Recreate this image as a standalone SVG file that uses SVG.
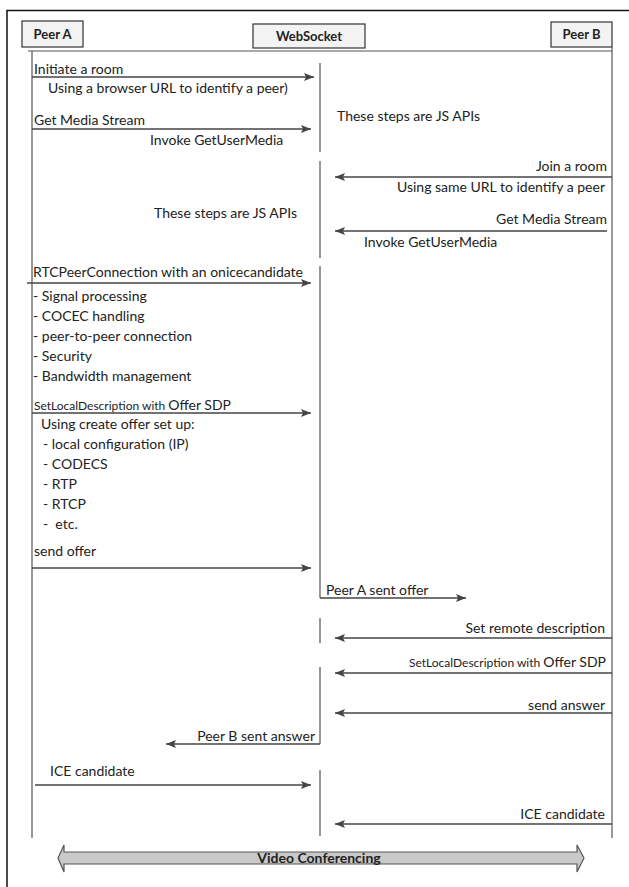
<svg xmlns="http://www.w3.org/2000/svg" width="629" height="887" viewBox="0 0 629 887">
<style>
text{font-family:Lato,"Liberation Sans",sans-serif;font-size:14px;fill:#222}
.b{font-weight:bold;font-size:13px}
.s{font-size:12px}
.r{text-anchor:end}
.m{text-anchor:middle}
.box{fill:#f3f3f3;stroke:#333;stroke-width:1.2}
.life{stroke:#555;stroke-width:1.2;fill:none}
.msg{stroke:#444;stroke-width:1.3;fill:none;marker-end:url(#ah)}
</style>
<defs>
<marker id="ah" viewBox="0 0 10 8" refX="10" refY="4" markerWidth="10" markerHeight="8" markerUnits="userSpaceOnUse" orient="auto">
<path d="M0,0 L10,4 L0,8 L2,4 Z" fill="#444"/>
</marker>
</defs>
<rect width="629" height="887" fill="#fff"/>
<path d="M7,887 V10.5 H629" fill="none" stroke="#111" stroke-width="1.5"/>
<g id="peerA">
<rect class="box" x="22" y="21" width="61" height="26"/>
<text class="b m" x="52.5" y="38.5">Peer A</text>
</g>
<g id="websocket">
<rect class="box" x="253" y="24" width="112" height="24"/>
<text class="b m" x="309" y="41">WebSocket</text>
</g>
<g id="peerB">
<rect class="box" x="551" y="22" width="61" height="25"/>
<text class="b m" x="581.5" y="39">Peer B</text>
</g>
<g id="lifelines">
<line class="life" x1="28" y1="51" x2="612" y2="51"/>
<line class="life" x1="32" y1="51" x2="32" y2="838"/>
<line class="life" x1="612" y1="47" x2="612" y2="838"/>
<line class="life" x1="320" y1="63" x2="320" y2="152"/>
<line class="life" x1="320" y1="161" x2="320" y2="258"/>
<line class="life" x1="320" y1="266" x2="320" y2="598"/>
<line class="life" x1="320" y1="618" x2="320" y2="643"/>
<line class="life" x1="320" y1="667" x2="320" y2="744"/>
<line class="life" x1="320" y1="770" x2="320" y2="836"/>
</g>
<g id="connectors">
<line class="msg" x1="32" y1="77" x2="314" y2="77"/>
<line class="msg" x1="32" y1="129" x2="311" y2="129"/>
<line class="msg" x1="612" y1="177" x2="335" y2="177"/>
<line class="msg" x1="607" y1="231" x2="335" y2="231"/>
<line class="msg" x1="27" y1="283" x2="311" y2="283"/>
<line class="msg" x1="32" y1="413" x2="311" y2="413"/>
<line class="msg" x1="32" y1="568" x2="311" y2="568"/>
<line class="msg" x1="320" y1="598" x2="466" y2="598"/>
<line class="msg" x1="612" y1="638" x2="335" y2="638"/>
<line class="msg" x1="612" y1="673" x2="335" y2="673"/>
<line class="msg" x1="612" y1="713" x2="335" y2="713"/>
<line class="msg" x1="320" y1="744" x2="166" y2="744"/>
<line class="msg" x1="35" y1="785" x2="311" y2="785"/>
<line class="msg" x1="612" y1="824" x2="335" y2="824"/>
</g>
<g id="labels">
<text x="34" y="74">Initiate a room</text>
<text x="48" y="93">Using a browser URL to identify a peer)</text>
<text x="337" y="121">These steps are JS APIs</text>
<text x="34" y="125">Get Media Stream</text>
<text x="150" y="145">Invoke GetUserMedia</text>
<text class="r" x="607" y="171">Join a room</text>
<text class="r" x="605" y="192">Using same URL to identify a peer</text>
<text x="154" y="218">These steps are JS APIs</text>
<text class="r" x="607" y="224">Get Media Stream</text>
<text x="364" y="247">Invoke GetUserMedia</text>
<text x="33" y="277">RTCPeerConnection with an onicecandidate</text>
<text x="33" y="301">- Signal processing</text>
<text x="33" y="321">- COCEC handling</text>
<text x="33" y="341">- peer-to-peer connection</text>
<text x="33" y="361">- Security</text>
<text x="33" y="381">- Bandwidth management</text>
<text x="34" y="410"><tspan class="s">SetLocalDescription with </tspan>Offer SDP</text>
<text x="41" y="429">Using create offer set up:</text>
<text x="43" y="449">- local configuration (IP)</text>
<text x="43" y="469">- CODECS</text>
<text x="43" y="489">- RTP</text>
<text x="43" y="509">- RTCP</text>
<text x="43" y="529" xml:space="preserve">-  etc.</text>
<text x="34" y="556">send offer</text>
<text x="326" y="595">Peer A sent offer</text>
<text class="r" x="605" y="633">Set remote description</text>
<text class="r" x="606" y="667"><tspan class="s">SetLocalDescription with </tspan>Offer SDP</text>
<text class="r" x="605" y="710">send answer</text>
<text class="r" x="315" y="741">Peer B sent answer</text>
<text x="50" y="776">ICE candidate</text>
<text class="r" x="605" y="819">ICE candidate</text>
</g>
<g id="videoConferencing">
<path d="M58,858 L64,845 L64,852 L577,852 L577,845 L584,858 L577,872 L577,864 L64,864 L64,872 Z" fill="#c9c9c9" stroke="#555" stroke-width="1.2"/>
<text class="b m" x="319" y="863" style="font-size:14px">Video Conferencing</text>
</g>
</svg>
